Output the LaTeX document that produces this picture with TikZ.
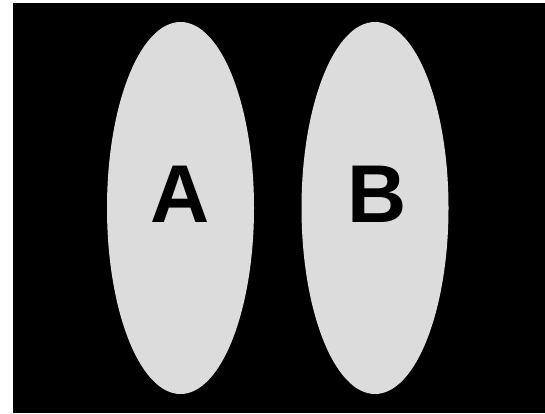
\documentclass[tikz,border=0pt]{standalone}
\usepackage{fontspec}
\setmainfont{Liberation Sans}
\usetikzlibrary{shapes.geometric}
\definecolor{setgray}{HTML}{DCDCDC}
\tikzset{
  setshape/.style={ellipse, fill=setgray, draw=none, minimum width=147pt, minimum height=372pt, inner sep=0pt},
  setlabel/.style={font=\bfseries\fontsize{82}{82}\selectfont, text=black, inner sep=0pt}
}
\begin{document}
\begin{tikzpicture}[x=1pt,y=-1pt]
\useasboundingbox (0,0) rectangle (545,413);
\fill[black] (13,3) rectangle (545,413);
\node[setshape] (ea) at (180.5,208) {};
\node[setshape] (eb) at (375,208) {};
\node[setlabel, anchor=base] (la) at (180.5,222) {A};
\node[setlabel, anchor=base] (lb) at (377,222) {B};
\end{tikzpicture}
\end{document}
